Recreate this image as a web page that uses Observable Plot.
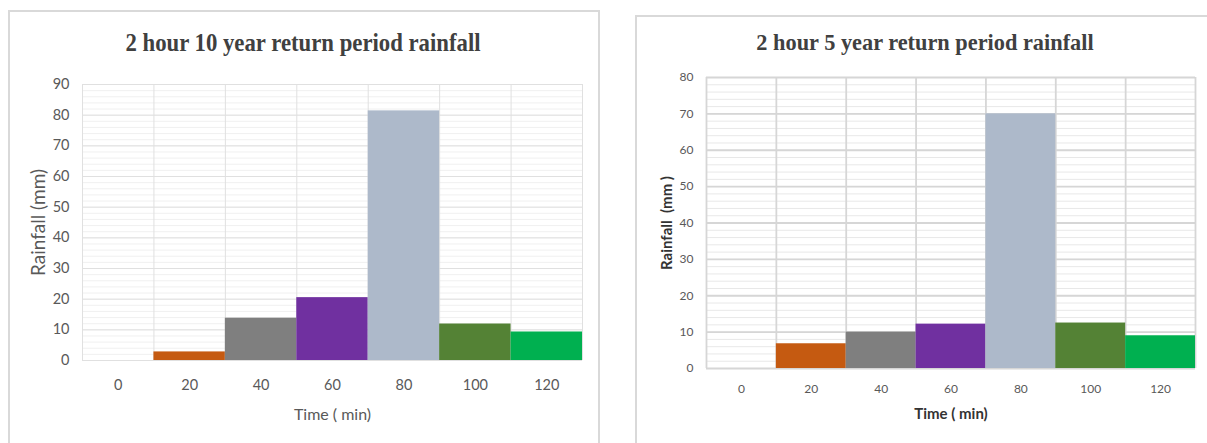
<!DOCTYPE html>
<html>
<head>
<meta charset="utf-8">
<script src="https://cdn.jsdelivr.net/npm/d3@7"></script>
<script src="https://cdn.jsdelivr.net/npm/@observablehq/plot@0.6"></script>
<style>
  html, body { margin: 0; padding: 0; background: #fff; }
  body { width: 1207px; height: 443px; position: relative; overflow: hidden; }
  .panel { position: absolute; border: 2px solid #d9d9d9; box-sizing: border-box; background: #fff; }
  .chart { position: absolute; top: 0; }
  .title { position: absolute; width: 600px; text-align: center; white-space: nowrap;
           font-family: "Liberation Serif", "Times New Roman", serif; font-weight: bold; color: #404040;
           transform-origin: center; }
</style>
</head>
<body>
<div class="panel" style="left:8px; top:10px; width:592px; height:445px;"></div>
<div class="panel" style="left:635px; top:15px; width:590px; height:445px;"></div>
<div id="c1" class="chart" style="left:0px; width:600px;"></div>
<div id="c2" class="chart" style="left:620px; width:587px;"></div>
<div id="t1" class="title" style="left:3px; top:30px; font-size:26px; line-height:26px; transform:scaleX(0.875);"></div>
<div id="t2" class="title" style="left:625px; top:30px; font-size:24px; line-height:24px; transform:scaleX(0.93);"></div>
<script>
// ---- data ----
const times = [0, 20, 40, 60, 80, 100, 120];
const rain10yr = [0, 2.8, 13.8, 20.5, 81.4, 11.9, 9.3];
const rain5yr = [0, 6.8, 10.0, 12.2, 70.0, 12.5, 9.0];
const yTicks10yr = [0, 10, 20, 30, 40, 50, 60, 70, 80, 90];
const yTicks5yr = [0, 10, 20, 30, 40, 50, 60, 70, 80];
const title10yr = "2 hour 10 year return period rainfall";
const title5yr = "2 hour 5 year return period rainfall";
const xLabel = "Time ( min)";
const yLabel10yr = "Rainfall (mm)";
const yLabel5yr = "Rainfall  (mm )";

// ---- styles ----
const palette = ["#4472C4", "#C55A11", "#7F7F7F", "#7030A0", "#ADB9CA", "#548235", "#00B050"];
const binHalf = 10;

function makeChart(values, yTicks, opts) {
  const data = times.map((t, i) => ({t, v: values[i]}));
  const yMax = yTicks[yTicks.length - 1];
  const edges = [...times.map(t => t - binHalf), times[times.length - 1] + binHalf];
  const minor = d3.range(0, yMax + 0.001, 2);
  return Plot.plot({
    width: opts.width,
    height: 443,
    marginLeft: opts.ml, marginRight: opts.mr, marginTop: opts.mt, marginBottom: opts.mb,
    style: {background: "transparent", fontFamily: "Lato, 'Open Sans', sans-serif", overflow: "visible"},
    x: {domain: [times[0] - binHalf, times[times.length - 1] + binHalf], axis: null},
    y: {domain: [0, yMax], axis: null},
    color: {type: "ordinal", domain: times, range: palette},
    marks: [
      Plot.ruleY(minor, {stroke: opts.minorColor, strokeWidth: 1}),
      Plot.ruleY(yTicks, {stroke: opts.majorColor, strokeWidth: opts.majorWidth}),
      Plot.ruleX(edges, {stroke: opts.majorColor, strokeWidth: opts.majorWidth}),
      Plot.rectY(data, {x1: d => d.t - binHalf, x2: d => d.t + binHalf, y: "v", fill: "t"}),
      Plot.axisY(yTicks, {tickSize: 0, tickPadding: 13, fontSize: opts.tickFont, fill: "#595959", label: null}),
      Plot.axisX(times, {tickSize: 0, tickPadding: opts.xTickPad, fontSize: opts.tickFont, fill: "#595959", label: null}),
      Plot.text([xLabel], {text: d => d, frameAnchor: "bottom", dy: opts.xLabelDy, lineAnchor: "middle", textAnchor: "middle",
        fontSize: opts.labelFont, fontWeight: opts.labelWeight, fill: opts.labelColor}),
      Plot.text([opts.yLabel], {text: d => d, frameAnchor: "left", dx: opts.yLabelDx, rotate: -90, lineAnchor: "middle", textAnchor: "middle",
        fontSize: opts.yLabelFont, fontWeight: opts.labelWeight, fill: opts.labelColor})
    ]
  });
}

document.getElementById("c1").append(makeChart(rain10yr, yTicks10yr, {
  width: 600, ml: 82, mr: 18, mt: 84, mb: 83,
  minorColor: "#f0f0f0", majorColor: "#e0e0e0", majorWidth: 1,
  tickFont: 14.5, xTickPad: 19,
  xLabelDy: 54, labelFont: 16, yLabelFont: 19, labelWeight: "normal", labelColor: "#595959",
  yLabel: yLabel10yr, yLabelDx: -44
}));
document.getElementById("c2").append(makeChart(rain5yr, yTicks5yr, {
  width: 587, ml: 86, mr: 12, mt: 77, mb: 75,
  minorColor: "#e8e8e8", majorColor: "#d6d6d6", majorWidth: 1.8,
  tickFont: 12, xTickPad: 16,
  xLabelDy: 46, labelFont: 15, yLabelFont: 15, labelWeight: "bold", labelColor: "#333333",
  yLabel: yLabel5yr, yLabelDx: -39
}));
document.getElementById("t1").textContent = title10yr;
document.getElementById("t2").textContent = title5yr;
</script>
</body>
</html>
